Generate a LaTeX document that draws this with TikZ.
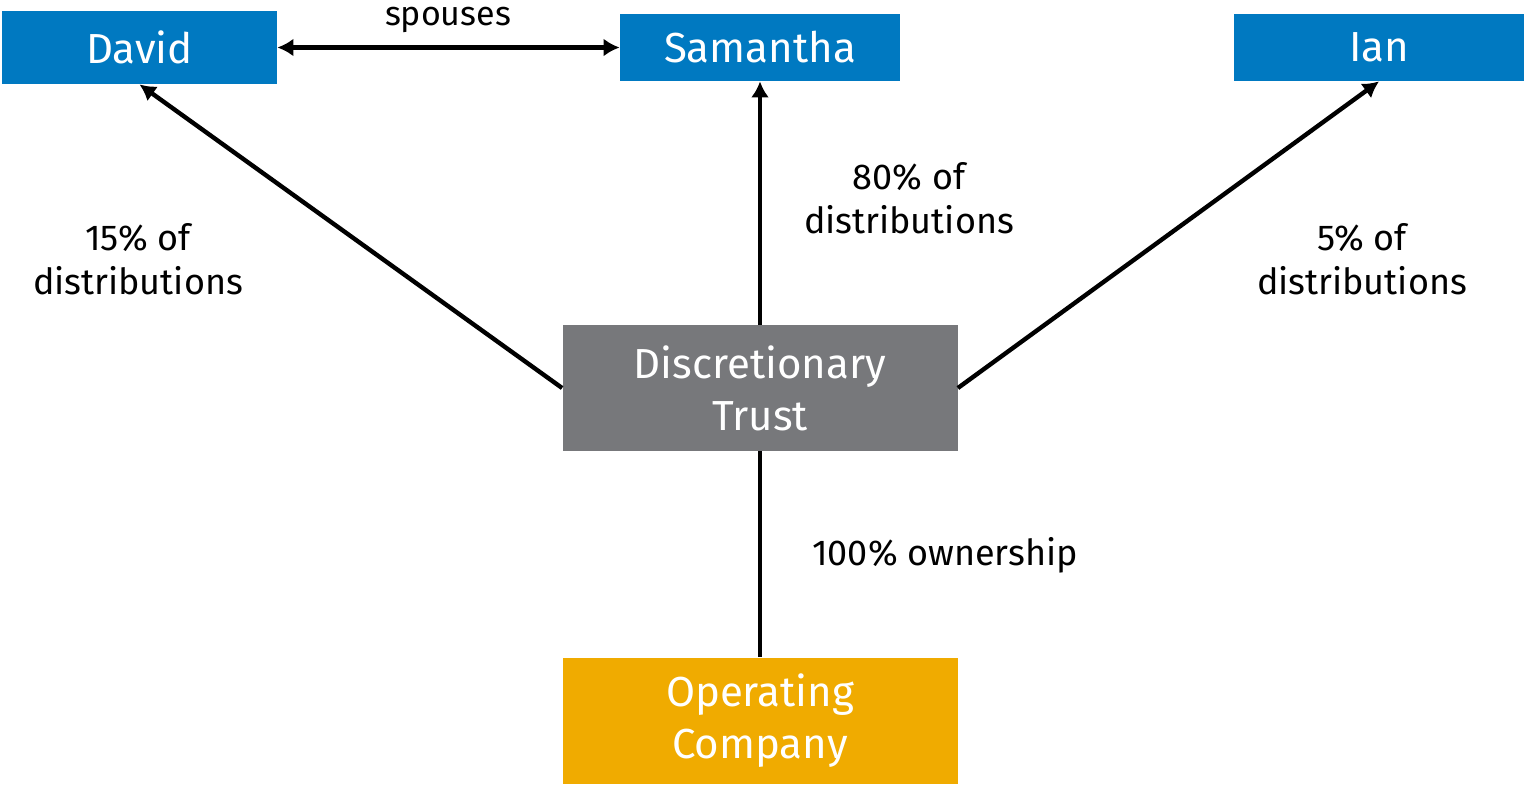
\documentclass[tikz,border=0pt]{standalone}
\usepackage{fontspec}
\setmainfont{Fira Sans}
\usepackage{xcolor}
\usetikzlibrary{positioning}
\usetikzlibrary{arrows.meta,calc}

\definecolor{personblue}{HTML}{0079C1}
\definecolor{trustgrey}{HTML}{77787B}
\definecolor{companygold}{HTML}{F0AB00}

\begin{document}
\begin{tikzpicture} [
    x=0.5pt, y=-0.5pt,
    person/.style  = { rectangle, fill=personblue, text=white, inner sep=0pt,
                       font=\fontsize{21}{26}\selectfont, minimum height=33.5pt },
    entity/.style  = { rectangle, inner sep=0pt, text=white, align=center,
                       font=\fontsize{21}{26}\selectfont,
                       minimum width=197.5pt, minimum height=63pt },
    share/.style   = { align=center, inner sep=0pt,
                       font=\fontsize{18}{22}\selectfont },
    line/.style    = { draw, line width=2.2pt, -{Latex[length=8pt,width=9pt]} },
    both/.style    = { {Latex[length=8pt,width=9pt]}-{Latex[length=8pt,width=9pt]} },
  ]
  \useasboundingbox (0,0) rectangle (1524,784);

  % people
  \node (david) [person, minimum width=137.5pt, minimum height=36.5pt] at (139.5,47.5) {David};
  \node (samantha) [person, minimum width=140pt] at (760,47.5) {Samantha};
  \node (ian) [person, minimum width=145pt] at (1379,47.5) {Ian};

  % trust and company
  \node (trust) [entity, fill=trustgrey] at (760,388) {Discretionary\\Trust};
  \node (company) [entity, fill=companygold] at (760,720.5) {Operating\\Company};

  % labels
  \node (spouses) [share, font=\fontsize{17}{20}\selectfont] at (448,20) {spouses};
  \node (davidshare) [share] at (138,259) {15\% of\\distributions};
  \node (samanthashare) [share] at (909,198) {80\% of\\distributions};
  \node (ianshare) [share] at (1362,259) {5\% of\\distributions};
  \node (ownership) [share] at (945,555) {100\% ownership};

  % connect nodes
  \begin{scope}[every path/.style=line]
  \path (trust.west) -- (david.south);
  \path (trust.north) -- (samantha.south);
  \path (trust.east) -- (ian.south);
  \path [both] (david.east) -- (samantha.west);
  \end{scope}
  \draw[-, line width=2.2pt] (company.north) -- (trust.south);

\end{tikzpicture}
\end{document}
